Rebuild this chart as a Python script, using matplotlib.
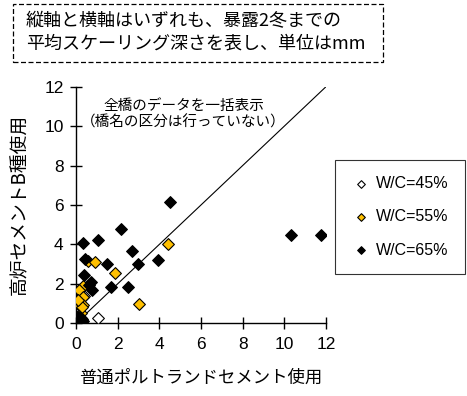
import matplotlib.pyplot as plt
from matplotlib.patches import Rectangle

plt.rcParams['font.family'] = ['Liberation Sans', 'Noto Sans CJK JP']
jp = ['Noto Sans CJK JP', 'DejaVu Sans']

# 平均スケーリング深さ (mm): x = 普通ポルトランド, y = 高炉B種
x45 = [1.05, 0.38, 0.10]
y45 = [0.25, 1.40, 0.15]

x55 = [4.39, 0.58, 0.91, 1.88, 3.03, 0.35, 0.16, 0.32, 0.06, 0.35, 0.19, 0.22, 0.16, 0.27, 0.11]
y55 = [4.04, 3.13, 3.10, 2.54, 0.98, 1.91, 1.69, 1.32, 1.13, 0.91, 0.88, 0.51, 0.30, 0.81, 1.18]

x65 = [4.52, 2.15, 1.04, 0.32, 2.69, 3.91, 2.98, 1.47, 0.42, 0.40, 0.71, 0.78, 1.68, 2.50,
       10.32, 11.78, 0.60, 0.05, 0.15, 0.25, 0.35, 0.10, 0.30, 0.20]
y65 = [6.14, 4.79, 4.23, 4.06, 3.67, 3.21, 2.98, 2.99, 3.26, 2.42, 2.11, 1.69, 1.84, 1.83,
       4.47, 4.45, 1.95, 0.05, 0.15, 0.25, 0.10, 0.30, 0.20, 0.05]

fig = plt.figure(figsize=(4.67, 3.96), dpi=100)
ax = fig.add_axes([0.163, 0.184, 0.535, 0.597])

ax.plot([0, 12], [0, 12], color='black', lw=0.8, zorder=1)
ax.scatter(x45, y45, marker='D', s=36, facecolor='white', edgecolor='black', lw=0.8,
           label='W/C=45%', zorder=3)
ax.scatter(x55, y55, marker='D', s=36, facecolor='#FFC000', edgecolor='black', lw=0.8,
           label='W/C=55%', zorder=3)
ax.scatter(x65, y65, marker='D', s=36, facecolor='black', edgecolor='black', lw=0.8,
           label='W/C=65%', zorder=3)

ax.set_xlim(0, 12)
ax.set_ylim(0, 12)
ax.set_xticks(range(0, 13, 2))
ax.set_yticks(range(0, 13, 2))
ax.tick_params(direction='inout', length=8, width=1, labelsize=12.5)
ax.tick_params(axis='x', pad=6)
ax.tick_params(axis='y', pad=5)
ax.spines['top'].set_visible(False)
ax.spines['right'].set_visible(False)
ax.spines['left'].set_linewidth(1)
ax.spines['bottom'].set_linewidth(1)

ax.set_xlabel('普通ポルトランドセメント使用', family=jp, fontsize=12.5, labelpad=12)
ax.set_ylabel('高炉セメントB種使用', family=jp, fontsize=13.5, labelpad=10)

ax.text(0.43, 0.95, '全橋のデータを一括表示\n（橋名の区分は行っていない）', transform=ax.transAxes,
        ha='center', va='top', family=jp, fontsize=10.5, linespacing=1.25)

leg = ax.legend(loc='center left', bbox_to_anchor=(1.035, 0.45), frameon=True, fancybox=False,
                edgecolor='black', fontsize=11.5, markerscale=0.65, handletextpad=0.3,
                borderpad=1.0, labelspacing=1.15, handlelength=1.3, borderaxespad=0)
leg.get_frame().set_linewidth(0.8)

fig.patches.append(Rectangle((0.028, 0.843), 0.792, 0.147, transform=fig.transFigure,
                             fill=False, ls=(0, (4, 2)), lw=0.9, edgecolor='black'))
fig.text(0.055, 0.918, '縦軸と横軸はいずれも、暴露2冬までの\n平均スケーリング深さを表し、単位はmm',
         ha='left', va='center', family=jp, fontsize=13, linespacing=1.3)

fig.savefig('out.png', dpi=100)
